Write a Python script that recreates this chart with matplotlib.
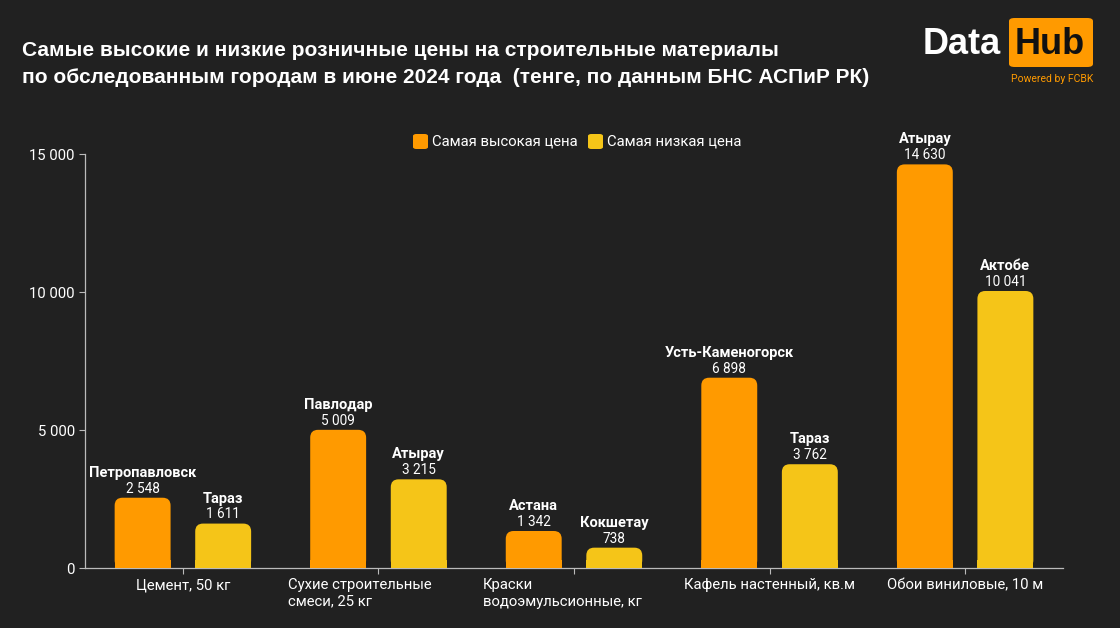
import numpy as np
import matplotlib
matplotlib.use("Agg")
import matplotlib.pyplot as plt
from matplotlib.patches import FancyBboxPatch, Rectangle
from matplotlib.ticker import FuncFormatter
from matplotlib.transforms import ScaledTranslation

plt.rcParams["font.family"] = ["Roboto", "DejaVu Sans"]

BG = "#212121"
C_HIGH = "#FF9A00"
C_LOW = "#F5C518"
C_TEXT = "#FFFFFF"
C_AXIS = "#BBBBBB"

categories = ["Цемент, 50 кг", "Сухие строительные\nсмеси, 25 кг", "Краски\nводоэмульсионные, кг",
              "Кафель настенный, кв.м", "Обои виниловые, 10 м"]
high_values = [2548, 5009, 1342, 6898, 14630]
high_cities = ["Петропавловск", "Павлодар", "Астана", "Усть-Каменогорск", "Атырау"]
low_values = [1611, 3215, 738, 3762, 10041]
low_cities = ["Тараз", "Атырау", "Кокшетау", "Тараз", "Актобе"]
yticks = [0, 5000, 10000, 15000]


def fmt_num(v):
    return f"{v:,.0f}".replace(",", " ")


def rounded_bars(ax, bars, color, radius=0.04, aspect=7100):
    for b in bars:
        x, w, h = b.get_x(), b.get_width(), b.get_height()
        b.set_visible(False)
        ax.add_patch(FancyBboxPatch((x, 0), w, h, boxstyle=f"round,pad=0,rounding_size={radius}",
                                    mutation_aspect=aspect, fc=color, ec="none", zorder=3))
        ax.add_patch(Rectangle((x, 0), w, min(h, radius * aspect), fc=color, ec="none", zorder=3))


fig = plt.figure(figsize=(11.2, 6.28), dpi=100)
fig.patch.set_facecolor(BG)
ax = fig.add_axes([0.076, 0.0955, 0.873, 0.659])
ax.set_facecolor(BG)

x = np.arange(len(categories))
w = 0.286
off = 0.206
b_hi = ax.bar(x - off, high_values, w, color=C_HIGH)
b_lo = ax.bar(x + off, low_values, w, color=C_LOW)
rounded_bars(ax, b_hi, C_HIGH)
rounded_bars(ax, b_lo, C_LOW)

for xs, vals, cities in [(x - off, high_values, high_cities), (x + off, low_values, low_cities)]:
    for xi, v, c in zip(xs, vals, cities):
        ax.annotate(fmt_num(v), (xi, v), xytext=(0, 1.5), textcoords="offset points",
                    ha="center", va="bottom", fontsize=9.8, color=C_TEXT, clip_on=False)
        ax.annotate(c, (xi, v), xytext=(0, 13), textcoords="offset points",
                    ha="center", va="bottom", fontsize=10.5, fontweight="bold", color=C_TEXT,
                    clip_on=False)

ax.set_xlim(-0.5, 4.5)
ax.set_ylim(0, 15000)
ax.set_yticks(yticks)
ax.yaxis.set_major_formatter(FuncFormatter(lambda v, p: fmt_num(v)))
ax.set_xticks(x)
ax.set_xticklabels(categories, multialignment="left")
ax.tick_params(axis="both", colors=C_AXIS, labelcolor=C_TEXT, labelsize=10.7, length=4)
# multi-line labels sit a little left of their ticks in the original
for lbl, dx in zip(ax.get_xticklabels(), [0, -19, -12, 0, 0]):
    lbl.set_transform(lbl.get_transform() + ScaledTranslation(dx / 100, 0, fig.dpi_scale_trans))
for s in ["top", "right"]:
    ax.spines[s].set_visible(False)
for s in ["left", "bottom"]:
    ax.spines[s].set_color(C_AXIS)
    ax.spines[s].set_linewidth(0.9)

# legend with rounded swatches
legend_items = [("Самая высокая цена", C_HIGH, 413), ("Самая низкая цена", C_LOW, 588)]
for label, c, px in legend_items:
    fig.patches.append(FancyBboxPatch((px / 1120, 1 - 149 / 628), 15 / 1120, 15 / 628,
                                      boxstyle="round,pad=0,rounding_size=0.003",
                                      transform=fig.transFigure, fc=c, ec="none"))
    fig.text((px + 19) / 1120, 1 - 141.5 / 628, label, fontsize=10.7, color=C_TEXT, va="center")

fig.text(0.02, 1 - 64 / 628, "Самые высокие и низкие розничные цены на строительные материалы\n"
         "по обследованным городам в июне 2024 года  (тенге, по данным БНС АСПиР РК)",
         fontsize=15, fontweight="bold", color=C_TEXT, va="center", linespacing=1.5,
         family=["Liberation Sans", "DejaVu Sans"])

# logo
fig.text(923 / 1120, 1 - 44 / 628, "Data", fontsize=26, fontweight="bold", color=C_TEXT,
         va="center", family=["Liberation Sans", "DejaVu Sans"])
fig.patches.append(FancyBboxPatch((1009 / 1120, 1 - 67 / 628), 84 / 1120, 49 / 628,
                                  boxstyle="round,pad=0,rounding_size=0.005",
                                  transform=fig.transFigure, fc=C_HIGH, ec="none"))
fig.text(1050 / 1120, 1 - 44 / 628, "Hub", fontsize=26, fontweight="bold", color="#111111",
         va="center", ha="center", family=["Liberation Sans", "DejaVu Sans"])
fig.text(1052 / 1120, 1 - 79 / 628, "Powered by FCBK", fontsize=7.5, color=C_HIGH,
         va="center", ha="center")

fig.savefig("out.png", dpi=100, facecolor=BG)
